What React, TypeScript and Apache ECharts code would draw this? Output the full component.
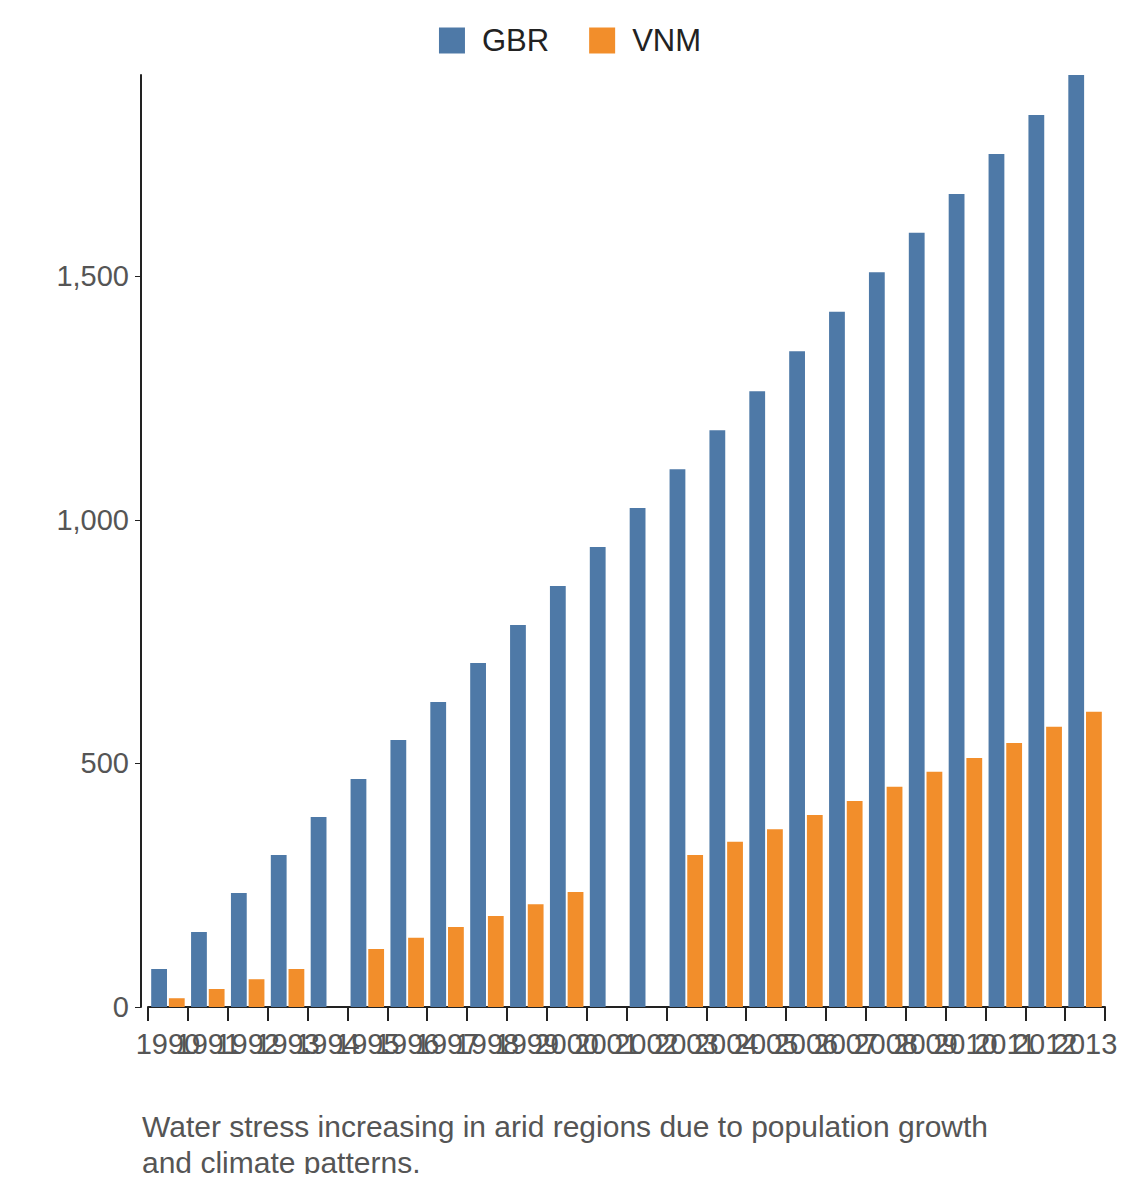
import { useRef, useEffect } from "react";
import * as echarts from "echarts";

const years = [
  "1990", "1991", "1992", "1993", "1994", "1995", "1996", "1997", "1998", "1999", "2000", "2001",
  "2002", "2003", "2004", "2005", "2006", "2007", "2008", "2009", "2010", "2011", "2012", "2013",
];
const gbr = [
  78, 154, 234, 312, 390, 468, 548, 626, 706, 784, 864, 944,
  1024, 1104, 1184, 1264, 1346, 1427, 1508, 1589, 1669, 1751, 1831, 1913,
];
const vnm = [
  18, 37, 57, 78, null, 119, 142, 164, 187, 211, 236, null,
  null, 312, 339, 365, 394, 423, 452, 483, 511, 542, 575, 606,
];
const caption = "Water stress increasing in arid regions due to population growth\nand climate patterns.";

const App = () => {
  const chartRef = useRef<HTMLDivElement>(null);

  useEffect(() => {
    if (!chartRef.current) return;
    const myChart = echarts.init(chartRef.current, null, { renderer: "svg" });
    const font = "Liberation Sans, Arial, sans-serif";
    myChart.setOption({
      animation: false,
      textStyle: { fontFamily: font },
      legend: {
        top: 12,
        left: "center",
        icon: "rect",
        itemWidth: 26,
        itemHeight: 26,
        itemGap: 40,
        textStyle: { fontSize: 31, color: "#222", fontFamily: font, padding: [0, 0, 0, 12] },
        data: ["GBR", "VNM"],
      },
      grid: { left: 140, right: 27, top: 67, bottom: 167 },
      xAxis: {
        type: "category",
        data: years,
        axisLine: { lineStyle: { color: "#222", width: 2 } },
        axisTick: { show: true, length: 14, lineStyle: { color: "#222", width: 2 } },
        axisLabel: { interval: 0, fontSize: 29, color: "#555", margin: 22, fontFamily: font },
      },
      yAxis: {
        type: "value",
        min: 0,
        max: 1913,
        interval: 500,
        offset: 7,
        splitLine: { show: false },
        axisLine: { show: true, lineStyle: { color: "#222", width: 2 } },
        axisTick: { show: true, length: 6, lineStyle: { color: "#222" } },
        axisLabel: {
          fontSize: 29,
          color: "#555",
          margin: 12,
          showMaxLabel: false,
          fontFamily: font,
          formatter: (v: number) => (v === 1913 ? "" : v.toLocaleString("en-US")),
        },
      },
      series: [
        {
          name: "GBR",
          type: "bar",
          data: gbr,
          itemStyle: { color: "#4e79a7" },
          barGap: "12%",
          barCategoryGap: "16%",
        },
        {
          name: "VNM",
          type: "bar",
          data: vnm,
          itemStyle: { color: "#f28e2b" },
        },
      ],
      graphic: [
        {
          type: "text",
          left: 134,
          top: 1100,
          style: { text: caption, fontSize: 30, fill: "#555", fontFamily: font, lineHeight: 36 },
        },
      ],
    });
    return () => myChart.dispose();
  }, []);

  return <div ref={chartRef} style={{ width: 1124, height: 1166 }}></div>;
};

export default App;
